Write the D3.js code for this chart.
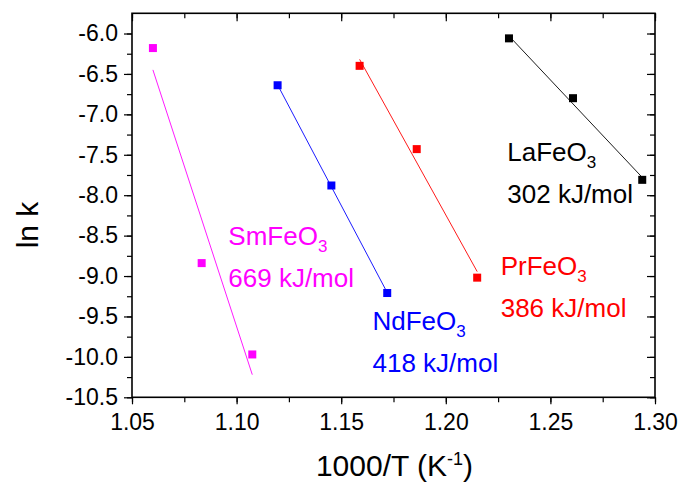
<!DOCTYPE html>
<html>
<head>
<meta charset="utf-8">
<script src="https://cdn.jsdelivr.net/npm/d3@7"></script>
<style>
  html, body { margin: 0; padding: 0; background: #fff; }
  text { font-family: "Liberation Sans", Arial, sans-serif; }
</style>
</head>
<body>
<svg id="chart" width="683" height="486"></svg>
<script>
// ---- data ----
const compounds = ["SmFeO", "NdFeO", "PrFeO", "LaFeO"];
const energies = ["669 kJ/mol", "418 kJ/mol", "386 kJ/mol", "302 kJ/mol"];
const colors = ["#ff00ff", "#0000ff", "#ff0000", "#000000"];
const xSm = [1.060, 1.0833, 1.1075];
const ySm = [-6.18, -8.84, -9.97];
const xNd = [1.1196, 1.1453, 1.172];
const yNd = [-6.64, -7.88, -9.21];
const xPr = [1.1588, 1.1861, 1.215];
const yPr = [-6.40, -7.43, -9.02];
const xLa = [1.2302, 1.2608, 1.2939];
const yLa = [-6.06, -6.80, -7.81];
// linear fit line values at the first and last x of each series
const fitSm = [-6.45, -10.22];
const fitNd = [-6.635, -9.205];
const fitPr = [-6.32, -8.945];
const fitLa = [-6.03, -7.78];
const xTicks = [1.05, 1.10, 1.15, 1.20, 1.25, 1.30];
const yTicks = [-6.0, -6.5, -7.0, -7.5, -8.0, -8.5, -9.0, -9.5, -10.0, -10.5];

const seriesX = [xSm, xNd, xPr, xLa];
const seriesY = [ySm, yNd, yPr, yLa];
const fits = [fitSm, fitNd, fitPr, fitLa];

// ---- layout ----
const W = 683, H = 486;
const m = {left: 132, top: 13.3, right: 28, bottom: 88.7};
const svg = d3.select("#chart");
const x = d3.scaleLinear().domain([1.05, 1.30]).range([m.left, W - m.right]);
const y = d3.scaleLinear().domain([-10.5, -5.75]).range([H - m.bottom, m.top]);

const xMinor = d3.range(0, 11).map(i => 1.05 + i * 0.025);
const yMinor = d3.range(0, 19).map(i => -10.5 + i * 0.25);

// minor ticks
svg.append("g").attr("transform", `translate(0,${y(-10.5)})`)
  .call(d3.axisBottom(x).tickValues(xMinor).tickSize(5).tickFormat(""))
  .call(g => g.select(".domain").remove());
svg.append("g").attr("transform", `translate(${x(1.05)},0)`)
  .call(d3.axisLeft(y).tickValues(yMinor).tickSize(5).tickFormat(""))
  .call(g => g.select(".domain").remove());
svg.append("g").attr("transform", `translate(0,${y(-5.75)})`)
  .call(d3.axisTop(x).tickValues(xMinor).tickSize(-5).tickFormat(""))
  .call(g => g.select(".domain").remove());
svg.append("g").attr("transform", `translate(${x(1.30)},0)`)
  .call(d3.axisRight(y).tickValues(yMinor).tickSize(-5).tickFormat(""))
  .call(g => g.select(".domain").remove());

// major ticks with labels
const xAxis = svg.append("g").attr("transform", `translate(0,${y(-10.5)})`)
  .call(d3.axisBottom(x).tickValues(xTicks).tickSize(7).tickPadding(9).tickFormat(d3.format(".2f")));
xAxis.select(".domain").remove();
xAxis.selectAll("text").attr("font-size", 23).attr("font-family", "Liberation Sans, Arial").attr("fill", "#000");

const yAxis = svg.append("g").attr("transform", `translate(${x(1.05)},0)`)
  .call(d3.axisLeft(y).tickValues(yTicks).tickSize(8).tickPadding(6).tickFormat(d3.format(".1f")));
yAxis.select(".domain").remove();
yAxis.selectAll("text").attr("font-size", 23).attr("font-family", "Liberation Sans, Arial").attr("fill", "#000")
  .text(d => d3.format(".1f")(d).replace("\u2212", "-"));
xAxis.selectAll("text").text(d => d3.format(".2f")(d));

svg.append("g").attr("transform", `translate(0,${y(-5.75)})`)
  .call(d3.axisTop(x).tickValues(xTicks).tickSize(-8).tickFormat(""))
  .call(g => g.select(".domain").remove());
svg.append("g").attr("transform", `translate(${x(1.30)},0)`)
  .call(d3.axisRight(y).tickValues(yTicks).tickSize(-8).tickFormat(""))
  .call(g => g.select(".domain").remove());

svg.selectAll(".tick line").attr("stroke", "#000").attr("stroke-width", 1.2);

// frame
svg.append("rect")
  .attr("x", x(1.05)).attr("y", y(-5.75))
  .attr("width", x(1.30) - x(1.05)).attr("height", y(-10.5) - y(-5.75))
  .attr("fill", "none").attr("stroke", "#000").attr("stroke-width", 1.6);

// fit lines
fits.forEach((f, i) => {
  const xs = seriesX[i];
  svg.append("line")
    .attr("x1", x(xs[0])).attr("y1", y(f[0]))
    .attr("x2", x(xs[xs.length - 1])).attr("y2", y(f[1]))
    .attr("stroke", colors[i]).attr("stroke-width", 0.9);
});

// markers
const sz = 8;
seriesX.forEach((xs, i) => {
  svg.append("g").selectAll("rect").data(xs.map((v, j) => [v, seriesY[i][j]]))
    .join("rect")
    .attr("x", d => x(d[0]) - sz / 2).attr("y", d => y(d[1]) - sz / 2)
    .attr("width", sz).attr("height", sz)
    .attr("fill", colors[i]);
});

// annotations
const labelPos = [[228.3, 245], [372.5, 330], [500.7, 275], [507.3, 161]];
compounds.forEach((c, i) => {
  const [lx, ly] = labelPos[i];
  const t = svg.append("text").attr("x", lx).attr("y", ly)
    .attr("font-size", 26).attr("fill", colors[i]);
  t.append("tspan").text(c);
  t.append("tspan").attr("font-size", 17).attr("dy", 7).text("3");
  svg.append("text").attr("x", lx).attr("y", ly + 42)
    .attr("font-size", 26).attr("fill", colors[i]).text(energies[i]);
});

// axis titles
const xt = svg.append("text").attr("x", (x(1.05) + x(1.30)) / 2 + 1).attr("y", 476)
  .attr("text-anchor", "middle").attr("font-size", 30).attr("fill", "#000");
xt.append("tspan").text("1000/T (K");
xt.append("tspan").attr("font-size", 18).attr("dy", -11).text("-1");
xt.append("tspan").attr("dy", 11).text(")");

svg.append("text")
  .attr("transform", "translate(38,225) rotate(-90)")
  .attr("text-anchor", "middle").attr("font-size", 30).attr("fill", "#000")
  .text("ln k");
</script>
</body>
</html>
